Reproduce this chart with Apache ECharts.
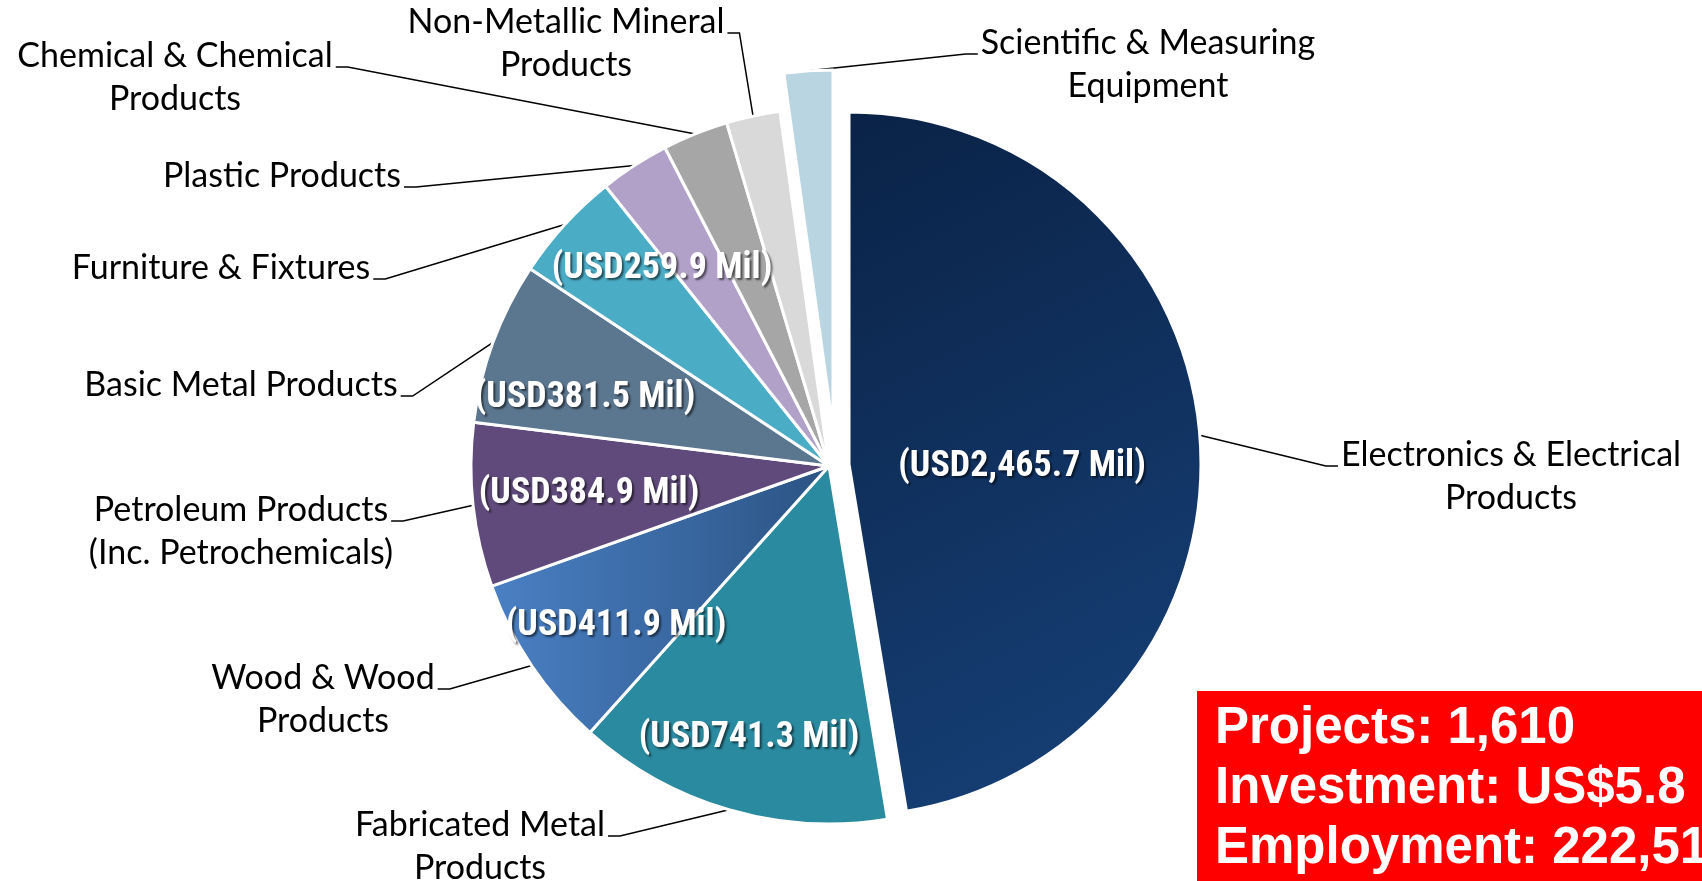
<!DOCTYPE html>
<html>
<head>
<meta charset="utf-8">
<title>Manufacturing investment by industry</title>
<script src="https://cdn.jsdelivr.net/npm/echarts@6/dist/echarts.min.js"></script>
<style>
  html, body { margin: 0; padding: 0; background: #fff; }
  #chart { width: 1702px; height: 881px; }
</style>
</head>
<body>
<div id="chart"></div>
<script>
// industries, clockwise from 12 o'clock
let industries = [
  'Electronics & Electrical\nProducts',
  'Fabricated Metal\nProducts',
  'Wood & Wood\nProducts',
  'Petroleum Products\n(Inc. Petrochemicals)',
  'Basic Metal Products',
  'Furniture & Fixtures',
  'Plastic Products',
  'Chemical & Chemical\nProducts',
  'Non-Metallic Mineral\nProducts',
  'Scientific & Measuring\nEquipment'
]
// investment, USD million (last four have no label)
let investment = [2465.7, 741.3, 411.9, 384.9, 381.5, 259.9, 164, 154, 126, 114]
// which slices show their value inside
let valueShown = [true, true, true, true, true, true, false, false, false, false]
// summary box text
let summaryLines = ['Projects: 1,610', 'Investment: US$5.8', 'Employment: 222,51']

// ---- layout / style ----
let colors = [
  {type: 'linear', x: 0, y: 0, x2: 1, y2: 1, colorStops: [{offset: 0, color: '#0a2246'}, {offset: 1, color: '#17427a'}]},
  '#2a8aa0',
  {type: 'linear', x: 0, y: 0, x2: 1, y2: 0, colorStops: [{offset: 0, color: '#4a80c4'}, {offset: 1, color: '#2b5383'}]},
  '#604a7b',
  '#5b768f',
  '#4bacc6',
  '#b1a0c7',
  '#a6a6a6',
  '#d9d9d9',
  '#b9d5e2'
]
let center = [829, 466]
let radius = 358
let lineH = 43
let labelFont = 'Lato, "Noto Sans", sans-serif'
let labelSize = 34
// outside label spots: text centre x, first line centre y
let labelSpots = [[1511, 455], [480, 825], [323, 678], [241, 510], [241, 385], [221, 268], [282, 176], [175, 56], [566, 22], [1148, 43]]
// value label spots: text centre
let valueSpots = [[1022, 467], [749, 738], [616, 626], [589, 494], [585, 398], [662, 269]]

let measureCtx = document.createElement('canvas').getContext('2d')
function textWidth (s) {
  measureCtx.font = labelSize + 'px ' + labelFont
  return measureCtx.measureText(s).width
}

function fmtValue (v) {
  return '(USD' + v.toLocaleString('en-US', {minimumFractionDigits: 1, maximumFractionDigits: 1}) + ' Mil)'
}

function outerLabelLayout (params) {
  let i = params.dataIndex
  let spot = labelSpots[i]
  let w = textWidth(industries[i].split('\n')[0])
  let onLeft = spot[0] < center[0]
  let endX = onLeft ? spot[0] + w / 2 + 3 : spot[0] - w / 2 - 3
  let lineY = spot[1] + 11
  let bendX = onLeft ? endX + 12 : endX - 12
  let p0 = params.labelLinePoints ? params.labelLinePoints[0] : [bendX, lineY]
  return {
    x: spot[0],
    y: spot[1] - lineH / 2,
    align: 'center',
    verticalAlign: 'top',
    labelLinePoints: [p0, [bendX, lineY], [endX, lineY]]
  }
}

// one pie layer; only the slices picked by `visible` are painted
function pieLayer (c, r, visible) {
  return {
    type: 'pie',
    center: c,
    radius: r,
    startAngle: 90,
    clockwise: true,
    avoidLabelOverlap: false,
    silent: true,
    animation: false,
    emphasis: {disabled: true},
    labelLayout: outerLabelLayout,
    data: industries.map(function (name, i) {
      let on = visible(i)
      return {
        name: name,
        value: investment[i],
        itemStyle: on
          ? {color: colors[i], borderColor: '#fff', borderWidth: 3}
          : {color: 'rgba(0,0,0,0)', borderWidth: 0},
        label: {
          show: on,
          position: 'outside',
          color: '#000',
          fontFamily: labelFont,
          fontSize: labelSize,
          lineHeight: lineH,
          overflow: 'none'
        },
        labelLine: {show: on, lineStyle: {color: '#000', width: 1.5}}
      }
    })
  }
}

let mainLayer = pieLayer(center, radius, function (i) { return i !== 0 && i !== 9 })
let electronicsLayer = pieLayer([center[0] + 20, center[1] - 2], radius - 6, function (i) { return i === 0 })
let scientificLayer = pieLayer([center[0] + 4, center[1] - 38], radius, function (i) { return i === 9 })

// invisible layer that only carries the value labels
let valueLayer = {
  type: 'pie',
  center: center,
  radius: radius,
  startAngle: 90,
  clockwise: true,
  avoidLabelOverlap: false,
  silent: true,
  animation: false,
  emphasis: {disabled: true},
  labelLine: {show: false},
  labelLayout: function (params) {
    let spot = valueSpots[params.dataIndex]
    if (!spot) return {}
    return {x: spot[0], y: spot[1], align: 'center', verticalAlign: 'middle'}
  },
  data: industries.map(function (name, i) {
    return {
      name: name,
      value: investment[i],
      itemStyle: {color: 'rgba(0,0,0,0)', borderWidth: 0},
      label: {
        show: valueShown[i],
        position: 'inside',
        formatter: fmtValue(investment[i]),
        color: '#fff',
        fontFamily: '"Roboto Condensed", "Liberation Sans", Arial, sans-serif',
        fontWeight: 'bold',
        fontSize: 36,
        textShadowColor: 'rgba(0,0,0,0.55)',
        textShadowBlur: 2,
        textShadowOffsetX: 2,
        textShadowOffsetY: 2
      }
    }
  })
}

let chart = echarts.init(document.getElementById('chart'))
chart.setOption({
  backgroundColor: '#fff',
  series: [mainLayer, electronicsLayer, scientificLayer, valueLayer],
  graphic: [
    {
      type: 'rect',
      shape: {x: 1197, y: 691, width: 600, height: 300},
      style: {fill: '#ff0000'},
      silent: true
    },
    {
      type: 'text',
      x: 1215,
      y: 699,
      silent: true,
      style: {
        text: summaryLines.join('\n'),
        font: 'bold 51px "Liberation Sans", Arial, sans-serif',
        fill: '#fff',
        lineHeight: 60
      }
    }
  ]
})
</script>
</body>
</html>
